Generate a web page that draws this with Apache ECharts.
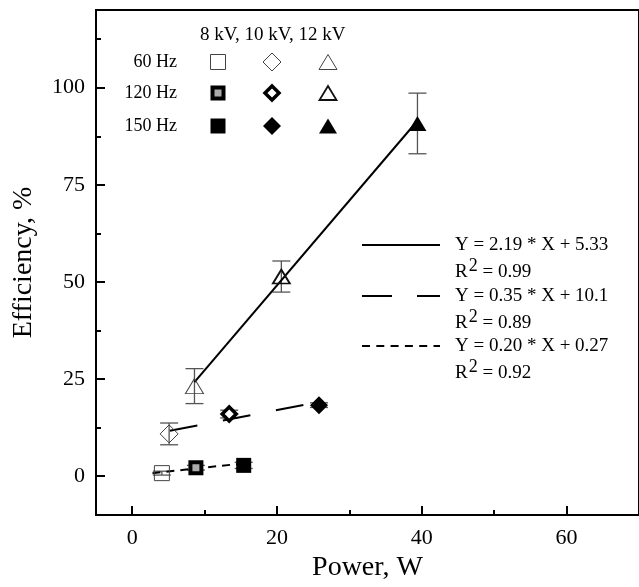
<!DOCTYPE html>
<html>
<head>
<meta charset="utf-8">
<script src="https://cdn.jsdelivr.net/npm/echarts@6/dist/echarts.min.js"></script>
<style>
html,body{margin:0;padding:0;background:#fff;}
#main{width:639px;height:587px;}
</style>
</head>
<body>
<div id="main"></div>
<script>
// ---- data ----
const frequencies = ['60 Hz', '120 Hz', '150 Hz'];
const voltages = ['8 kV', '10 kV', '12 kV'];

// index order within each voltage: 60 Hz, 120 Hz, 150 Hz
const power8kV = [4.1, 8.8, 15.4];
const eff8kV = [0.8, 2.2, 2.8];
const err8kV = [0.5, 0.6, 0.8];

const power10kV = [5.1, 13.4, 25.8];
const eff10kV = [10.9, 16.0, 18.3];
const err10kV = [2.8, 1.0, 0.6];

const power12kV = [8.6, 20.6, 39.4];
const eff12kV = [23.2, 51.4, 90.8];
const err12kV = [4.5, 4.0, 7.8];

// fitted lines (end points)
const fit12X = [8.6, 39.4];
const fit12Y = [24.2, 91.5];
const fit10X = [5.2, 25.5];
const fit10Y = [11.7, 19.0];
const fit8X = [2.8, 15.4];
const fit8Y = [0.8, 3.3];

const fitLabels = ['Y = 2.19 * X + 5.33', 'Y = 0.35 * X + 10.1', 'Y = 0.20 * X + 0.27'];
const fitR2 = ['0.99', '0.89', '0.92'];

const xTicks = [0, 20, 40, 60];
const xMinorTicks = [10, 30, 50];
const yTicks = [0, 25, 50, 75, 100];
const yMinorTicks = [12.5, 37.5, 62.5, 87.5, 112.5];

// ---- chart ----
const FONT = 'Liberation Serif';
const chart = echarts.init(document.getElementById('main'), null, {renderer: 'canvas'});

const powers = [power8kV, power10kV, power12kV];
const effs = [eff8kV, eff10kV, eff12kV];
const errs = [err8kV, err10kV, err12kV];
const symbolsByVoltage = ['rect', 'diamond', 'triangle'];

function markerStyle(fi, vi) {
  if (fi === 0) return {color: 'rgba(0,0,0,0)', borderColor: '#444', borderWidth: 1, size: [[15, 15], [18, 18], [18, 15]][vi]};
  if (fi === 1) {
    if (vi === 0) return {color: '#aaa', borderColor: '#000', borderWidth: 4, size: [11, 11]};
    if (vi === 1) return {color: '#fff', borderColor: '#000', borderWidth: 3.5, size: [14, 14]};
    return {color: 'rgba(0,0,0,0)', borderColor: '#111', borderWidth: 1.8, size: [17, 14]};
  }
  return {color: '#000', borderColor: '#000', borderWidth: 0, size: [[15, 15], [18, 18], [18, 15]][vi]};
}

const errData = [];
for (let v = 0; v < 3; v++) for (let f = 0; f < 3; f++) errData.push([powers[v][f], effs[v][f], errs[v][f]]);

const series = [];
series.push({
  type: 'custom', xAxisIndex: 0, yAxisIndex: 0, z: 2, silent: true,
  data: errData,
  renderItem: function (params, api) {
    const x = api.value(0), y = api.value(1), e = api.value(2);
    const t = api.coord([x, y + e]);
    const b = api.coord([x, y - e]);
    const hw = 9;
    const st = {stroke: '#555', lineWidth: 1.3};
    return {type: 'group', children: [
      {type: 'line', shape: {x1: t[0], y1: t[1], x2: b[0], y2: b[1]}, style: st},
      {type: 'line', shape: {x1: t[0] - hw, y1: t[1], x2: t[0] + hw, y2: t[1]}, style: st},
      {type: 'line', shape: {x1: b[0] - hw, y1: b[1], x2: b[0] + hw, y2: b[1]}, style: st}
    ]};
  }
});

function fitSeries(xs, ys, dash) {
  return {
    type: 'line', xAxisIndex: 0, yAxisIndex: 0, z: 3, silent: true,
    data: xs.map((x, i) => [x, ys[i]]),
    symbol: 'none',
    lineStyle: {color: '#000', width: 2, type: dash},
  };
}
series.push(fitSeries(fit12X, fit12Y, 'solid'));
series.push(fitSeries(fit10X, fit10Y, [28, 26]));
series.push(fitSeries(fit8X, fit8Y, [8, 6]));

for (let v = 0; v < 3; v++) {
  for (let f = 0; f < 3; f++) {
    const ms = markerStyle(f, v);
    series.push({
      type: 'scatter', xAxisIndex: 0, yAxisIndex: 0, z: 4,
      name: frequencies[f] + ', ' + voltages[v],
      data: [[powers[v][f], effs[v][f]]],
      symbol: symbolsByVoltage[v],
      symbolSize: ms.size,
      itemStyle: {color: ms.color, borderColor: ms.borderColor, borderWidth: ms.borderWidth, opacity: 1},
      emphasis: {disabled: true}
    });
  }
}

// legend graphics (symbol matrix)
const graphics = [];
const colX = [218, 272, 328];
const rowY = [62, 93, 126];
graphics.push({type: 'text', left: 200, top: 26, style: {text: voltages.join(', '), font: '19px "' + FONT + '"', fill: '#000'}});
for (let f = 0; f < 3; f++) {
  graphics.push({type: 'text', x: 177, y: rowY[f], style: {text: frequencies[f], font: '18px "' + FONT + '"', fill: '#000', align: 'right', verticalAlign: 'middle'}});
  for (let v = 0; v < 3; v++) {
    const ms = markerStyle(f, v);
    const st = {fill: ms.color, stroke: ms.borderWidth ? ms.borderColor : null, lineWidth: ms.borderWidth};
    const cx = colX[v], cy = rowY[f];
    const w = ms.size[0] / 2, h = ms.size[1] / 2;
    if (v === 0) {
      graphics.push({type: 'rect', shape: {x: cx - w, y: cy - h, width: 2 * w, height: 2 * h}, style: st});
    } else if (v === 1) {
      graphics.push({type: 'polygon', shape: {points: [[cx, cy - h], [cx + w, cy], [cx, cy + h], [cx - w, cy]]}, style: st});
    } else {
      graphics.push({type: 'polygon', shape: {points: [[cx, cy - h], [cx + w, cy + h], [cx - w, cy + h]]}, style: st});
    }
  }
}

// fit legend
const fitDash = [null, [30, 25], [8, 6.3]];
const fitRowY = [245, 296, 346];
for (let i = 0; i < 3; i++) {
  graphics.push({type: 'line', shape: {x1: 362, y1: fitRowY[i], x2: 440, y2: fitRowY[i]}, style: {stroke: '#000', lineWidth: 2, lineDash: fitDash[i]}});
  graphics.push({type: 'text', x: 455, y: fitRowY[i], style: {text: fitLabels[i], font: '19px "' + FONT + '"', fill: '#000', verticalAlign: 'middle'}});
  graphics.push({type: 'text', x: 455, y: fitRowY[i] + 26, style: {
    text: '{a|R}{s|2}{a| = ' + fitR2[i] + '}',
    verticalAlign: 'middle',
    rich: {
      a: {fontFamily: FONT, fontSize: 19, fill: '#000', color: '#000', verticalAlign: 'bottom', lineHeight: 22},
      s: {fontFamily: FONT, fontSize: 18, fill: '#000', color: '#000', verticalAlign: 'bottom', lineHeight: 22, padding: [0, 0, 7, 1]}
    }
  }});
}

const axisFont = {fontFamily: FONT, fontSize: 22, color: '#000'};

const option = {
  animation: false,
  backgroundColor: '#fff',
  grid: {left: 96, top: 10, right: -2, bottom: 65, show: true, borderColor: '#000', borderWidth: 2, backgroundColor: 'transparent'},
  xAxis: [
    {
      type: 'value', min: -5, max: 70, position: 'bottom',
      name: 'Power, W', nameLocation: 'middle', nameGap: 33,
      nameTextStyle: {fontFamily: FONT, fontSize: 28, color: '#000'},
      axisLine: {show: true, onZero: false, lineStyle: {color: '#000', width: 2}},
      axisTick: {show: true, inside: true, length: 9, lineStyle: {color: '#000', width: 2}, customValues: xTicks},
      axisLabel: Object.assign({margin: 12, customValues: xTicks}, axisFont),
      splitLine: {show: false}
    },
    {
      type: 'value', min: -5, max: 70, position: 'bottom',
      axisLine: {show: false, onZero: false},
      axisTick: {show: true, inside: true, length: 5, lineStyle: {color: '#000', width: 2}, customValues: xMinorTicks},
      axisLabel: {show: false},
      splitLine: {show: false}
    }
  ],
  yAxis: [
    {
      type: 'value', min: -10, max: 120, position: 'left',
      name: 'Efficiency, %', nameLocation: 'middle', nameGap: 58,
      nameTextStyle: {fontFamily: FONT, fontSize: 28, color: '#000'},
      axisLine: {show: true, onZero: false, lineStyle: {color: '#000', width: 2}},
      axisTick: {show: true, inside: true, length: 9, lineStyle: {color: '#000', width: 2}, customValues: yTicks},
      axisLabel: Object.assign({margin: 11, customValues: yTicks}, axisFont),
      splitLine: {show: false}
    },
    {
      type: 'value', min: -10, max: 120, position: 'left',
      axisLine: {show: false, onZero: false},
      axisTick: {show: true, inside: true, length: 5, lineStyle: {color: '#000', width: 2}, customValues: yMinorTicks},
      axisLabel: {show: false},
      splitLine: {show: false}
    }
  ],
  series: series,
  graphic: graphics
};
chart.setOption(option);
</script>
</body>
</html>
